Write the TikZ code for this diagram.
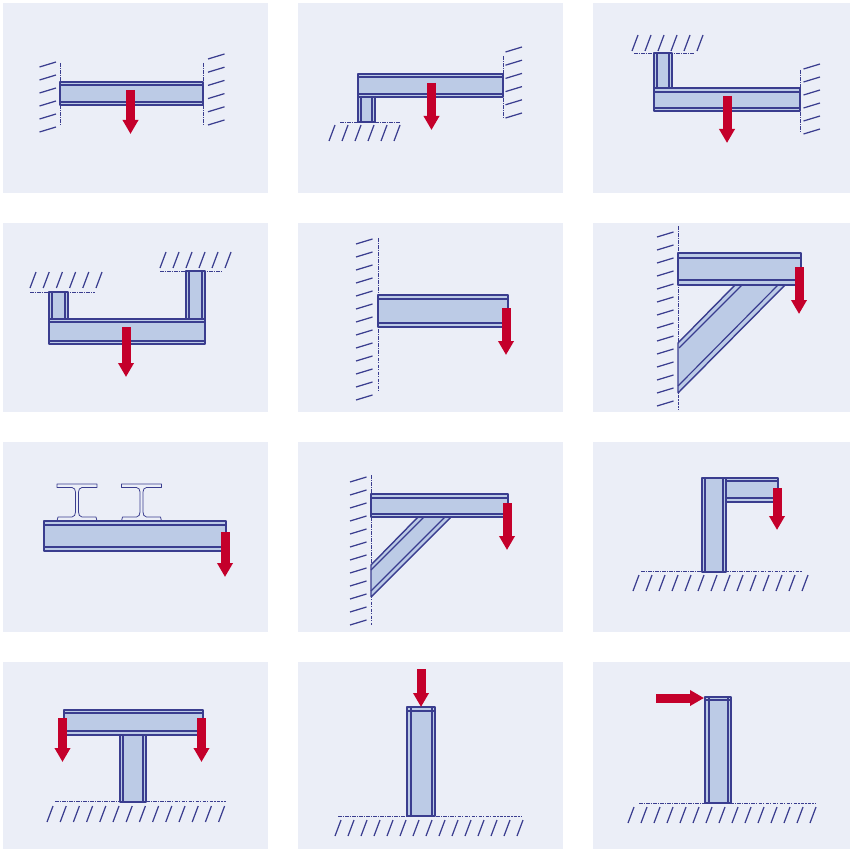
\documentclass[tikz,border=0pt]{standalone}
\usepackage{tikz}
\usetikzlibrary{arrows.meta}
\definecolor{cpanel}{RGB}{235,238,247}
\definecolor{csteel}{RGB}{188,203,230}
\definecolor{cline}{RGB}{58,61,143}
\definecolor{cload}{RGB}{196,0,43}
\tikzset{
  panel/.style={fill=cpanel,draw=none},
  steel/.style={fill=csteel,draw=none},
  outline/.style={draw=cline,line width=1.2pt,line join=round},
  flange/.style={draw=cline,line width=1pt},
  datum/.style={draw=cline,line width=0.55pt,dash pattern=on 3pt off 1pt on 1pt off 1pt},
  hatchline/.style={draw=cline,line width=1.05pt},
  load/.style={draw=cload,line width=0.27cm,-{Triangle[length=0.42cm,width=0.45cm]}},
  rolled/.style={draw=cline,line width=0.65pt,fill=cpanel,line join=round}
}
% horizontal member: x0,y0,x1,y1, inner flange lines at y2,y3
\newcommand{\beamh}[6]{%
  \fill[steel] (#1,#2) rectangle (#3,#4);
  \draw[flange] (#1,#5) -- (#3,#5) (#1,#6) -- (#3,#6);
  \draw[outline] (#1,#2) rectangle (#3,#4);}
% vertical member: x0,y0,x1,y1, inner flange lines at x2,x3
\newcommand{\beamv}[6]{%
  \fill[steel] (#1,#2) rectangle (#3,#4);
  \draw[flange] (#5,#2) -- (#5,#4) (#6,#2) -- (#6,#4);
  \draw[outline] (#1,#2) rectangle (#3,#4);}
% hatching of a wall: x, first y, count, pitch
\newcommand{\wallhatch}[4]{%
  \foreach \i in {1,...,#3}
    \draw[hatchline] (#1,{#2+(\i-1)*#4}) -- ++(16.5,-5);}
% hatching of a floor or ceiling: first x, y, count, pitch
\newcommand{\floorhatch}[4]{%
  \foreach \i in {1,...,#3}
    \draw[hatchline] ({#1+(\i-1)*#4},#2) -- ++(6,-16);}
% rolled section seen from the end: x of left edge, width 40
\newcommand{\rolledI}[1]{%
  \draw[rolled,shift={(#1,0)}] (0,484) -- (40,484) -- (40,487.5) -- (25,487.5)
    to[out=180,in=90] (21.5,492) -- (21.5,512) to[out=-90,in=180] (25,517)
    -- (39,517) -- (40,521) -- (0,521) -- (1,517) -- (15,517)
    to[out=0,in=-90] (18.5,512) -- (18.5,492) to[out=90,in=0] (15,487.5)
    -- (0,487.5) -- cycle;}
\begin{document}
\begin{tikzpicture}[x=0.03cm,y=-0.03cm]
\useasboundingbox (0,0) rectangle (850,849);
\foreach \x/\w in {3/265,298/265,593/257}
  \foreach \y/\h in {3/190,223/189,442/190,662/187}
    \fill[panel] (\x,\y) rectangle ++(\w,\h);
% ---------------- row 1 ----------------
\begin{scope}
  \wallhatch{39.5}{67}{6}{13}
  \wallhatch{208}{59}{6}{13.2}
  \draw[datum] (60,63) -- (60,124) (203,63) -- (203,124);
  \beamh{60}{82}{203}{105}{85}{102}
  \draw[load] (130.5,90) -- (130.5,134);
\end{scope}
\begin{scope}
  \wallhatch{505.5}{52}{6}{13.2}
  \floorhatch{329}{141}{6}{13}
  \draw[datum] (503,56) -- (503,118) (340,122) -- (400,122);
  \beamv{358}{97}{375}{122}{361}{372}
  \beamh{358}{74}{503}{97}{77}{94}
  \draw[load] (431.5,83) -- (431.5,130);
\end{scope}
\begin{scope}
  \wallhatch{803.5}{69}{6}{13}
  \floorhatch{632}{51}{6}{13}
  \draw[datum] (800,70) -- (800,132) (634,53) -- (694,53);
  \beamv{654}{53}{672}{88}{657}{669}
  \beamh{654}{88}{800}{111}{92}{108}
  \draw[load] (727,96) -- (727,143);
\end{scope}
% ---------------- row 2 ----------------
\begin{scope}
  \floorhatch{30}{288}{6}{13.2}
  \floorhatch{160}{268}{6}{13}
  \draw[datum] (30,292) -- (95,292) (160,271) -- (222,271);
  \beamv{49}{292}{68}{319}{52}{65}
  \beamv{186}{271}{205}{319}{189}{202}
  \beamh{49}{319}{205}{344}{322}{341}
  \draw[load] (126,327) -- (126,377);
\end{scope}
\begin{scope}
  \wallhatch{356}{244}{13}{13}
  \draw[datum] (378,238) -- (378,392);
  \beamh{378}{295}{508}{327}{299}{323}
  \draw[load] (506,308) -- (506,355);
\end{scope}
\begin{scope}
  \wallhatch{657}{237}{14}{13}
  \draw[datum] (678,226) -- (678,410);
  \fill[steel] (678,343) -- (735,285) -- (785,285) -- (678,393) -- cycle;
  \draw[flange] (679,348) -- (742,285) (678,386) -- (778,285);
  \draw[outline] (678,393) -- (678,343) -- (735,285) (678,393) -- (785,285);
  \beamh{678}{253}{801}{285}{258}{280}
  \draw[load] (799,267) -- (799,314);
\end{scope}
% ---------------- row 3 ----------------
\begin{scope}
  \rolledI{57}
  \rolledI{121.5}
  \beamh{44}{521}{226}{551}{525}{547}
  \draw[load] (225,532) -- (225,577);
\end{scope}
\begin{scope}
  \wallhatch{350}{482}{12}{13}
  \draw[datum] (371,475) -- (371,625);
  \fill[steel] (371,565) -- (418,517) -- (451,517) -- (371,597) -- cycle;
  \draw[flange] (371,570) -- (424,517) (371,591) -- (445,517);
  \draw[outline] (371,597) -- (371,565) -- (418,517) (371,597) -- (451,517);
  \beamh{371}{494}{508}{517}{498}{514}
  \draw[load] (507,503) -- (507,550);
\end{scope}
\begin{scope}
  \floorhatch{633}{591}{14}{13}
  \draw[datum] (641,571) -- (802,571);
  \beamh{726}{478}{778}{502}{481}{498}
  \beamv{702}{478}{726}{572}{705}{723}
  \draw[load] (777,488) -- (777,530);
\end{scope}
% ---------------- row 4 ----------------
\begin{scope}
  \floorhatch{47}{822}{14}{13.2}
  \draw[datum] (55,801) -- (226,801);
  \beamv{120}{735}{146}{802}{123}{143}
  \beamh{64}{710}{203}{735}{713}{731}
  \draw[load] (62.5,718) -- (62.5,762);
  \draw[load] (201.5,718) -- (201.5,762);
\end{scope}
\begin{scope}
  \floorhatch{335}{836}{15}{13}
  \draw[datum] (338,816) -- (521,816);
  \beamv{407}{707}{435}{816}{411}{432}
  \draw[flange] (407,711) -- (435,711);
  \draw[load] (421,669) -- (421,707);
\end{scope}
\begin{scope}
  \floorhatch{628}{823}{15}{13}
  \draw[datum] (639,803) -- (815,803);
  \beamv{705}{697}{731}{803}{709}{728}
  \draw[flange] (705,700) -- (731,700);
  \draw[load] (656,698) -- (704,698);
\end{scope}
\end{tikzpicture}
\end{document}
